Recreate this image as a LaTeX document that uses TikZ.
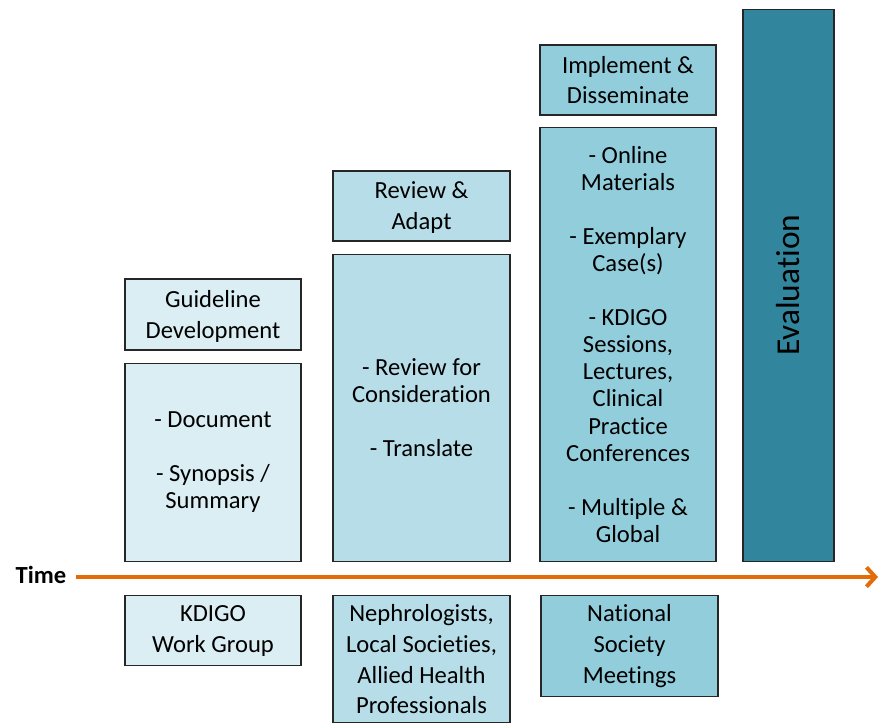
\documentclass[tikz,border=0pt]{standalone}
\usepackage{fontspec}
\setmainfont{Carlito}[Ligatures=NoCommon]
\usetikzlibrary{positioning,arrows.meta}

\definecolor{paleblue}{HTML}{DAEEF3}
\definecolor{lightblue}{HTML}{B7DEE8}
\definecolor{midblue}{HTML}{92CDDC}
\definecolor{darkteal}{HTML}{31859C}
\definecolor{timeorange}{HTML}{E36C09}

\begin{document}
\begin{tikzpicture}[node distance=0.24cm,
                    box/.style={rectangle,draw=black!85,line width=0.8pt,align=center,inner sep=2pt},
                    head node/.style={box,minimum height=1.4cm,font=\fontsize{14}{17.5}\selectfont,
                                      text depth=0pt},
                    body node/.style={box,anchor=south,font=\fontsize{14}{15.4}\selectfont},
                    who node/.style={box,anchor=north,font=\fontsize{14}{17.5}\selectfont}]
  \useasboundingbox (0,0) rectangle (17.56,-14.44);

  % first column
  \node[body node,fill=paleblue,minimum width=3.52cm,minimum height=3.96cm] (b1) at (4.26,-11.24)
    {- Document\\[15.5pt] - Synopsis /\\Summary};
  \node[head node,fill=paleblue,minimum width=3.52cm,minimum height=1.42cm] (h1) [above=of b1]
    {Guideline\\Development};
  \node[who node,fill=paleblue,minimum width=3.52cm,minimum height=1.4cm] (w1) at (4.26,-11.9)
    {KDIGO\\Work Group};

  % second column
  \node[body node,fill=lightblue,minimum width=3.54cm,minimum height=6.14cm] (b2) at (8.43,-11.24)
    {- Review for\\Consideration\\[15.5pt] - Translate};
  \node[head node,fill=lightblue,minimum width=3.54cm] (h2) [above=of b2]
    {Review \&\\Adapt};
  \node[who node,fill=lightblue,minimum width=3.54cm,minimum height=2.54cm] (w2) at (8.43,-11.9)
    {Nephrologists,\\Local Societies,\\Allied Health\\Professionals};

  % third column
  \node[body node,fill=midblue,minimum width=3.52cm,minimum height=8.68cm] (b3) at (12.56,-11.24)
    {- Online\\Materials\\[15.5pt] - Exemplary\\Case(s)\\[15.5pt] - KDIGO\\Sessions,\\Lectures,\\Clinical\\Practice\\Conferences\\[15.5pt] - Multiple \&\\Global};
  \node[head node,fill=midblue,minimum width=3.52cm] (h3) [above=0.22cm of b3]
    {Implement \&\\Disseminate};
  \node[who node,fill=midblue,minimum width=3.54cm,minimum height=2.02cm] (w3) at (12.59,-11.9)
    {National\\Society\\Meetings};

  % evaluation
  \node[body node,fill=darkteal,minimum width=1.82cm,minimum height=11.04cm] (ev) at (15.77,-11.24) {};
  \node[rotate=90,font=\fontsize{19}{22}\selectfont] at (ev.center) {Evaluation};

  % time axis
  \node[font=\fontsize{14}{17}\selectfont\bfseries,inner sep=2pt] (time) at (0.82,-11.5) {Time};
  \coordinate (end) at (17.56,-11.54);
  \draw[timeorange,line width=2.3pt,-{Straight Barb[length=5pt,width=11pt]}]
    (time.east |- end) ++(0.12,0) -- (end);
\end{tikzpicture}
\end{document}
